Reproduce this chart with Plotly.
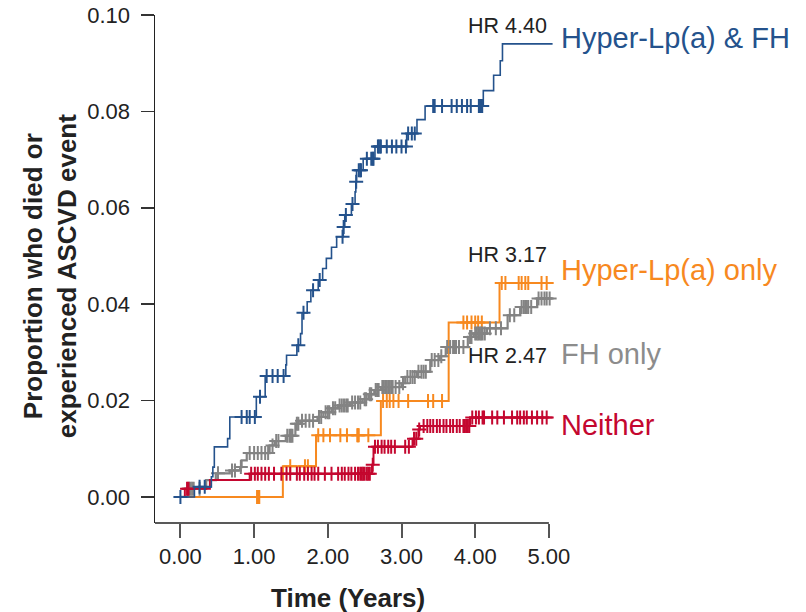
import plotly.graph_objects as go

# ---------------- data ----------------
END_T = 5.05

blue_times = [0.19, 0.42, 0.44, 0.46, 0.64, 0.67, 1.03, 1.15, 1.43, 1.44, 1.58, 1.63, 1.65, 1.72, 1.77, 1.87,
              1.93, 1.98, 2.05, 2.12, 2.21, 2.23, 2.32, 2.37, 2.38, 2.39, 2.48, 2.64, 3.07, 3.21, 3.32,
              4.11, 4.25, 4.34, 4.37]
blue_vals = [0.0021, 0.0042, 0.0062, 0.0104, 0.0121, 0.0166, 0.0208, 0.0251, 0.0274, 0.0294, 0.0315, 0.0339,
             0.0382, 0.0405, 0.0429, 0.0450, 0.0474, 0.0495, 0.0518, 0.0540, 0.0560, 0.0585, 0.0608, 0.0633,
             0.0654, 0.0678, 0.0702, 0.0727, 0.0754, 0.0783, 0.0811, 0.0843, 0.0875, 0.0905, 0.0940]
blue_cens = [0.0, 0.26, 0.33, 0.83, 0.90, 0.94, 1.01, 1.08, 1.17, 1.25, 1.32, 1.40, 1.60, 1.67, 1.80, 1.89,
             2.20, 2.215, 2.245, 2.335, 2.385, 2.42, 2.44, 2.45, 2.53, 2.59, 2.61, 2.62, 2.68, 2.69, 2.71,
             2.72, 2.80, 2.87, 2.93, 3.00, 3.06, 3.09, 3.14, 3.18, 3.43, 3.45, 3.55, 3.68, 3.75, 3.82, 3.89,
             3.94, 4.05, 4.065, 4.08, 4.095]

orange_times = [1.39, 1.84, 2.72, 3.64, 4.33]
orange_vals = [0.0064, 0.0128, 0.0199, 0.0362, 0.0444]
orange_cens = [1.04, 1.05, 1.06, 1.07, 1.49, 1.69, 1.73, 1.87, 1.94, 2.03, 2.17, 2.26, 2.40, 2.41, 2.42, 2.55,
               2.75, 2.80, 2.84, 2.89, 2.96, 3.09, 3.36, 3.43, 3.55, 3.84, 3.89, 3.95, 4.00, 4.04, 4.09,
               4.36, 4.41, 4.59, 4.63, 4.68, 4.72, 4.90, 4.97]

gray_times = [0.10, 0.35, 0.48, 0.67, 0.81, 0.83, 0.90, 1.21, 1.28, 1.43, 1.56, 1.63, 1.86, 1.94, 2.05, 2.14,
              2.30, 2.47, 2.55, 2.63, 2.72, 3.00, 3.05, 3.21, 3.39, 3.52, 3.60, 3.90, 3.98, 4.16, 4.44,
              4.61, 4.84]
gray_vals = [0.0017, 0.0035, 0.0049, 0.0055, 0.0062, 0.0076, 0.0091, 0.0107, 0.0116, 0.0127, 0.0152, 0.0158,
             0.0166, 0.0176, 0.0184, 0.0190, 0.0196, 0.0203, 0.0213, 0.0222, 0.0228, 0.0236, 0.0249, 0.0260,
             0.0284, 0.0292, 0.0311, 0.0332, 0.0339, 0.0350, 0.0377, 0.0394, 0.0412]
gray_cens = [0.12, 0.14, 0.16, 0.18, 0.26, 0.51, 0.70, 0.74, 0.82, 0.94, 1.00, 1.05, 1.10, 1.15, 1.19, 1.25,
             1.30, 1.33, 1.45, 1.48, 1.50, 1.52, 1.58, 1.60, 1.65, 1.70, 1.75, 1.80, 1.88, 1.91, 1.97, 2.00,
             2.02, 2.07, 2.10, 2.16, 2.19, 2.22, 2.25, 2.27, 2.33, 2.37, 2.41, 2.44, 2.50, 2.52, 2.57, 2.59,
             2.65, 2.67, 2.69, 2.74, 2.76, 2.78, 2.80, 2.82, 2.84, 2.86, 2.88, 2.92, 2.97, 3.02, 3.08, 3.12,
             3.15, 3.18, 3.23, 3.27, 3.30, 3.33, 3.41, 3.45, 3.50, 3.54, 3.62, 3.66, 3.70, 3.72, 3.74, 3.78,
             3.84, 3.93, 3.95, 4.00, 4.02, 4.04, 4.06, 4.08, 4.10, 4.13, 4.20, 4.28, 4.35, 4.47, 4.53, 4.63,
             4.66, 4.68, 4.70, 4.72, 4.76, 4.86, 4.90, 4.94, 4.97, 5.01]

red_times = [0.06, 0.40, 0.94, 2.60, 2.62, 3.15, 3.23, 3.25, 3.93]
red_vals = [0.0017, 0.0035, 0.0048, 0.0067, 0.0104, 0.0121, 0.0140, 0.0147, 0.0165]
red_cens = [0.09, 0.11, 0.96, 1.01, 1.05, 1.10, 1.15, 1.20, 1.27, 1.37, 1.44, 1.49, 1.58, 1.62, 1.68, 1.73,
            1.78, 1.82, 1.87, 1.96, 2.05, 2.14, 2.19, 2.23, 2.28, 2.32, 2.37, 2.41, 2.44, 2.46, 2.48, 2.50,
            2.53, 2.55, 2.57, 2.61, 2.64, 2.68, 2.73, 2.77, 2.82, 2.86, 2.91, 3.05, 3.10, 3.17, 3.20, 3.24,
            3.30, 3.35, 3.39, 3.43, 3.48, 3.52, 3.57, 3.61, 3.66, 3.70, 3.75, 3.79, 3.84, 3.86, 3.88, 3.90,
            3.92, 3.96, 4.01, 4.05, 4.10, 4.12, 4.23, 4.30, 4.39, 4.50, 4.57, 4.61, 4.66, 4.70, 4.77, 4.84,
            4.91, 4.97]

group_names = ["Hyper-Lp(a) & FH", "Hyper-Lp(a) only", "FH only", "Neither"]
hr_labels = ["HR 4.40", "HR 3.17", "HR 2.47", None]

x_tick_vals = [0, 1, 2, 3, 4, 5]
x_tick_text = ["0.00", "1.00", "2.00", "3.00", "4.00", "5.00"]
y_tick_vals = [0.0, 0.02, 0.04, 0.06, 0.08, 0.10]
y_tick_text = ["0.00", "0.02", "0.04", "0.06", "0.08", "0.10"]

# ---------------- styling ----------------
FONT = "Arial, Liberation Sans, Helvetica, sans-serif"
C_BLUE = "#24528C"
C_ORANGE = "#F7891F"
C_GRAY = "#838383"
C_RED = "#C4072F"
TXT = "#222222"


def step_value(times, vals, t):
    v = 0.0
    for ti, vi in zip(times, vals):
        if ti <= t:
            v = vi
    return v


series = [
    (group_names[1], orange_times, orange_vals, orange_cens, C_ORANGE, 2.0),
    (group_names[2], gray_times, gray_vals, gray_cens, C_GRAY, 2.2),
    (group_names[3], red_times, red_vals, red_cens, C_RED, 2.0),
    (group_names[0], blue_times, blue_vals, blue_cens, C_BLUE, 1.6),
]

fig = go.Figure()
for name, times, vals, cens, col, lw in series:
    xs = [0.0] + list(times) + [END_T]
    ys = [0.0] + list(vals) + [vals[-1]]
    fig.add_trace(go.Scatter(x=xs, y=ys, mode="lines", line=dict(color=col, width=lw, shape="hv"),
                             name=name, showlegend=False, hoverinfo="skip"))
    cy = [step_value(times, vals, t) for t in cens]
    fig.add_trace(go.Scatter(x=cens, y=cy, mode="markers",
                             marker=dict(symbol="cross-thin", size=10, color=col,
                                         line=dict(color=col, width=2)),
                             showlegend=False, hoverinfo="skip", cliponaxis=False))

X_MIN, X_MAX = -0.345, 5.3
Y_MIN, Y_MAX = -0.0054, 0.10

fig.update_layout(
    width=806, height=612,
    margin=dict(l=155, r=235, t=15, b=89, autoexpand=False),
    paper_bgcolor="white", plot_bgcolor="white",
    font=dict(family=FONT, color=TXT),
    xaxis=dict(range=[X_MIN, X_MAX], showgrid=False, zeroline=False, showline=False, automargin=False,
               ticks="outside", ticklen=14, tickwidth=2, tickcolor="#555555",
               tickvals=x_tick_vals, ticktext=x_tick_text, ticklabeloverflow="allow",
               tickfont=dict(family=FONT, size=22, color=TXT)),
    yaxis=dict(range=[Y_MIN, Y_MAX], showgrid=False, zeroline=False, showline=True, automargin=False,
               linecolor="#222222", linewidth=1.5,
               ticks="outside", ticklen=13, tickwidth=1.5, tickcolor="#333333",
               tickvals=y_tick_vals, ticktext=y_tick_text, ticklabelstandoff=6, ticklabeloverflow="allow",
               tickfont=dict(family=FONT, size=22, color=TXT)),
    shapes=[dict(type="line", xref="x", yref="paper", x0=X_MIN, x1=5.0, y0=0, y1=0,
                 line=dict(color="#222222", width=1.5))],
)

ann = []
# axis titles
ann.append(dict(text="<b>Time (Years)</b>", xref="x", yref="paper", x=2.27, y=-0.148,
                xanchor="center", yanchor="middle", showarrow=False,
                font=dict(family=FONT, size=26, color=TXT)))
ann.append(dict(text="<b>Proportion who died or<br>experienced ASCVD event</b>", xref="paper", yref="paper",
                x=-0.252, y=0.486, xanchor="center", yanchor="middle", textangle=-90, showarrow=False,
                font=dict(family=FONT, size=26, color=TXT)))

# group labels
label_y = [0.0952, 0.0470, 0.0296, 0.0149]
hr_y = [0.0977, 0.0503, 0.0293, None]
label_cols = [C_BLUE, C_ORANGE, "#8C8C8C", C_RED]
for name, ly, col, hr, hy in zip(group_names, label_y, label_cols, hr_labels, hr_y):
    ann.append(dict(text=name, xref="x", yref="y", x=5.14, y=ly, xanchor="left", yanchor="middle",
                    showarrow=False, font=dict(family=FONT, size=29, color=col)))
    if hr:
        ann.append(dict(text=hr, xref="x", yref="y", x=5.005, y=hy, xanchor="right", yanchor="middle",
                        showarrow=False, font=dict(family=FONT, size=21.5, color=TXT)))
fig.update_layout(annotations=ann)

# remove the default page margin so the 806x612 figure fills the window exactly
fig.write_html("out.html",
               config={"displayModeBar": False, "staticPlot": True},
               post_script="document.body.style.margin='0';document.body.style.overflow='hidden';")
